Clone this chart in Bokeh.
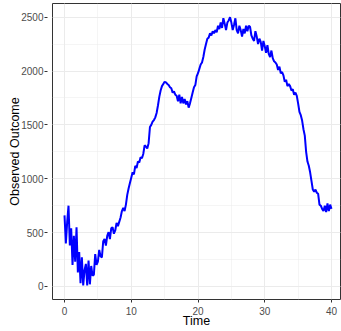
from bokeh.plotting import figure
from bokeh.models import SingleIntervalTicker, Range1d, ColumnDataSource
from bokeh.embed import file_html
from bokeh.resources import INLINE

# Observed outcome sampled every 0.2 time units, t = 0 .. 40
time_step = 0.2
outcome = [
    660, 400, 600, 750, 380, 540, 200, 470, 230, 550,
    130, 320, 30, 270, 10, 150, 210, 10, 240, 20,
    190, 100, 110, 300, 200, 230, 340, 280, 270, 420,
    440, 380, 470, 505, 440, 540, 550, 490, 520, 590,
    560, 600, 640, 700, 730, 700, 760, 850, 910, 960,
    1010, 1060, 1040, 1120, 1100, 1160, 1150, 1200, 1190, 1230,
    1310, 1300, 1280, 1330, 1480, 1500, 1530, 1545, 1570, 1610,
    1680, 1760, 1820, 1860, 1880, 1900, 1895, 1880, 1870, 1850,
    1840, 1800, 1810, 1780, 1770, 1720, 1780, 1700, 1760, 1700,
    1740, 1690, 1720, 1660, 1700, 1750, 1800, 1850, 1870, 1950,
    1980, 2020, 2060, 2080, 2130, 2200, 2250, 2300, 2310, 2350,
    2330, 2370, 2350, 2380, 2360, 2420, 2390, 2450, 2400, 2490,
    2440, 2380, 2450, 2470, 2500, 2450, 2380, 2430, 2490, 2380,
    2350, 2420, 2380, 2320, 2390, 2350, 2420, 2370, 2420, 2410,
    2330, 2300, 2280, 2370, 2320, 2250, 2300, 2270, 2190, 2280,
    2230, 2170, 2240, 2160, 2130, 2190, 2120, 2090, 2080, 2060,
    2010, 2040, 1980, 1990, 1960, 1900, 1920, 1860, 1880, 1860,
    1820, 1830, 1780, 1800, 1770, 1700, 1620, 1590, 1540, 1460,
    1400, 1250, 1160, 1120, 1060, 980, 900, 880, 900, 870,
    860, 760, 750, 720, 700, 750, 690, 770, 700, 760,
    720,
]
time = [round(i * time_step, 1) for i in range(len(outcome))]

x_ticks_interval = 10
y_ticks_interval = 500

source = ColumnDataSource(dict(time=time, outcome=outcome))

p = figure(
    width=341, height=331,
    output_backend="svg", toolbar_location=None,
    x_range=Range1d(-1.8, 41.35), y_range=Range1d(-121, 2627),
    min_border_left=52, min_border_right=1, min_border_top=3, min_border_bottom=32,
    background_fill_color="white", border_fill_color="white",
)

p.line("time", "outcome", source=source, line_color="#0000FF", line_width=2)

p.outline_line_color = "#333333"
p.outline_line_width = 1

p.xaxis.ticker = SingleIntervalTicker(interval=x_ticks_interval, num_minor_ticks=2)
p.yaxis.ticker = SingleIntervalTicker(interval=y_ticks_interval, num_minor_ticks=2)

for ax in (p.xaxis[0], p.yaxis[0]):
    ax.axis_line_color = None
    ax.minor_tick_line_color = None
    ax.major_tick_line_color = "#333333"
    ax.major_label_text_font = "Liberation Sans"
    ax.major_label_text_font_size = "10px"
    ax.major_label_text_color = "#4D4D4D"
    ax.axis_label_text_font = "Liberation Sans"
    ax.axis_label_text_font_size = "12.5px"
    ax.axis_label_text_font_style = "normal"
    ax.axis_label_text_color = "black"

p.xaxis.axis_label = "Time"
p.xaxis.major_tick_in = 0
p.xaxis.major_tick_out = 3
p.xaxis.major_label_standoff = 3
p.xaxis.axis_label_standoff = -4

p.yaxis.axis_label = "Observed Outcome"
p.yaxis.major_tick_in = -5
p.yaxis.major_tick_out = 8
p.yaxis.major_label_standoff = 1
p.yaxis.axis_label_standoff = -4

for g in (p.xgrid[0], p.ygrid[0]):
    g.grid_line_color = "#EBEBEB"
    g.grid_line_width = 1
    g.minor_grid_line_color = "#EBEBEB"
    g.minor_grid_line_width = 0.5

open("out.html", "w").write(file_html(p, INLINE))
